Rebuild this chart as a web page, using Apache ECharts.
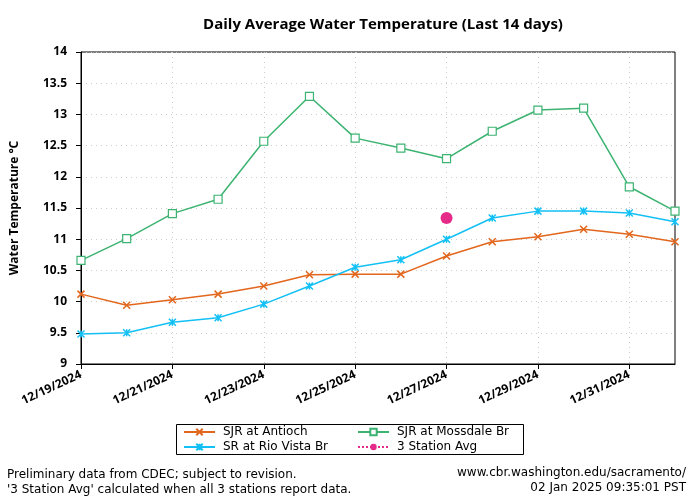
<!DOCTYPE html>
<html><head><meta charset="utf-8">
<script src="https://cdn.jsdelivr.net/npm/echarts@6/dist/echarts.min.js"></script>
<style>html,body{margin:0;padding:0;background:#fff}#c{width:700px;height:500px}</style>
</head><body><div id="c"></div>
<script>
const dates = ['12/19/2024','12/20/2024','12/21/2024','12/22/2024','12/23/2024','12/24/2024','12/25/2024','12/26/2024','12/27/2024','12/28/2024','12/29/2024','12/30/2024','12/31/2024','01/01/2025'];
const antioch = [10.12, 9.94, 10.03, 10.12, 10.25, 10.43, 10.44, 10.44, 10.73, 10.96, 11.04, 11.16, 11.08, 10.96];
const rioVista = [9.48, 9.50, 9.67, 9.74, 9.96, 10.25, 10.55, 10.67, 11.00, 11.34, 11.45, 11.45, 11.42, 11.28];
const mossdale = [10.66, 11.01, 11.41, 11.64, 12.57, 13.29, 12.62, 12.46, 12.29, 12.73, 13.07, 13.10, 11.84, 11.45];
const avg3 = [null, null, null, null, null, null, null, null, 11.34, null, null, null, null, null];

const FONT = 'Open Sans';
const chart = echarts.init(document.getElementById('c'));
const xSym = 'path://M0,0L10,10M10,0L0,10';
const starSym = 'path://M0,0L10,10M10,0L0,10M5,0L5,10';
const legendText = { fontFamily: 'DejaVu Sans', fontSize: 12, color: '#000', padding: [0, 0, 0, 3], lineHeight: 14 };
chart.setOption({
  animation: false,
  backgroundColor: '#fff',
  title: { text: 'Daily Average Water Temperature (Last 14 days)', left: 378, textAlign: 'center', top: 12,
    textStyle: { fontFamily: FONT, fontSize: 15, fontWeight: 'bold', color: '#000' } },
  grid: { left: 81, right: 25, top: 52, bottom: 136, show: true, borderColor: '#000', borderWidth: 1 },
  xAxis: { type: 'category', data: dates, boundaryGap: false,
    axisLine: { lineStyle: { color: '#000', width: 1 } },
    axisTick: { interval: 1, length: 5, lineStyle: { color: '#000' } },
    axisLabel: { interval: 1, rotate: 25, margin: 10, color: '#000', fontFamily: FONT, fontSize: 12, fontWeight: 'bold' },
    splitLine: { show: true, interval: 1, lineStyle: { color: '#ccc', type: [1, 4], width: 1 } } },
  yAxis: { type: 'value', min: 9, max: 14, interval: 0.5,
    name: 'Water Temperature °C', nameLocation: 'middle', nameGap: 60,
    nameTextStyle: { fontFamily: FONT, fontSize: 12, fontWeight: 'bold', color: '#000' },
    axisLine: { show: true, lineStyle: { color: '#000', width: 1 } },
    axisTick: { show: true, length: 5, lineStyle: { color: '#000' } },
    axisLabel: { color: '#000', fontFamily: FONT, fontSize: 12, fontWeight: 'bold', margin: 14 },
    splitLine: { show: true, lineStyle: { color: '#ccc', type: [1, 4], width: 1 } } },
  legend: [
    { orient: 'vertical', left: 183, top: 425, padding: 0, itemGap: 1, itemWidth: 31, itemHeight: 8,
      data: ['SJR at Antioch', 'SR at Rio Vista Br'], textStyle: legendText },
    { orient: 'vertical', left: 357, top: 425, padding: 0, itemGap: 1, itemWidth: 31, itemHeight: 8,
      data: ['SJR at Mossdale Br', '3 Station Avg'], textStyle: legendText }
  ],
  graphic: [
    { type: 'rect', shape: { x: 176.5, y: 424.5, width: 347, height: 30 }, style: { fill: 'none', stroke: '#000', lineWidth: 1 } },
    { type: 'text', left: 7, top: 467, style: { text: 'Preliminary data from CDEC; subject to revision.\n\'3 Station Avg\' calculated when all 3 stations report data.', font: '12px "DejaVu Sans"', fill: '#000', lineHeight: 15 } },
    { type: 'text', x: 686, y: 467, style: { text: 'www.cbr.washington.edu/sacramento/', font: '12px "DejaVu Sans"', fill: '#000', align: 'right', verticalAlign: 'top' } },
    { type: 'text', x: 686, y: 482, style: { text: '02 Jan 2025 09:35:01 PST', font: '12px "DejaVu Sans"', fill: '#000', align: 'right', verticalAlign: 'top' } }
  ],
  series: [
    { name: 'SJR at Antioch', type: 'line', data: antioch, symbol: xSym, symbolSize: 7,
      lineStyle: { color: '#e2661c', width: 1.5 },
      itemStyle: { color: '#e2661c', borderColor: '#e2661c', borderWidth: 1.5 } },
    { name: 'SR at Rio Vista Br', type: 'line', data: rioVista, symbol: starSym, symbolSize: 7,
      lineStyle: { color: '#13c0f5', width: 1.5 },
      itemStyle: { color: '#13c0f5', borderColor: '#13c0f5', borderWidth: 1.5 } },
    { name: 'SJR at Mossdale Br', type: 'line', data: mossdale, symbol: 'rect', symbolSize: 8,
      lineStyle: { color: '#3cb371', width: 1.5 },
      itemStyle: { color: '#fff', borderColor: '#3cb371', borderWidth: 1.2 } },
    { name: '3 Station Avg', type: 'line', data: avg3, symbol: 'circle', symbolSize: 12, connectNulls: false,
      lineStyle: { color: '#e52a89', width: 1.5, type: 'dotted' },
      itemStyle: { color: '#e52a89' } }
  ]
});
</script></body></html>
